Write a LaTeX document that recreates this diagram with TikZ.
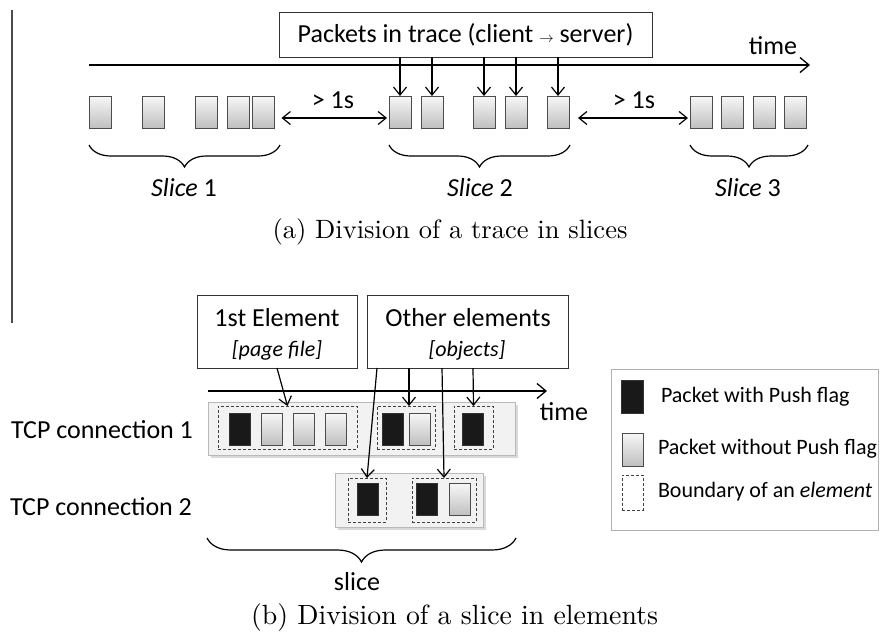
\documentclass[tikz,border=0pt]{standalone}
\usepackage{fontspec}
\newfontfamily\carl{Carlito}
\newfontfamily\lmten[Extension=.otf]{lmroman10-regular}
\usetikzlibrary{arrows.meta,decorations.pathreplacing,calc,shadows}
\begin{document}
\begin{tikzpicture}[x=1pt,y=-1pt,
  every node/.style={inner sep=0pt,outer sep=0pt},
  sf/.style={font=\carl\fontsize{26}{30}\selectfont},
  lg/.style={font=\carl\fontsize{22}{26}\selectfont},
  pkt/.style={draw=black!70,line width=0.8pt,minimum width=22pt,minimum height=32pt,top color=gray!6,bottom color=gray!50},
  spkt/.style={pkt,minimum width=21pt},
  bpkt/.style={draw=black!80,line width=0.8pt,fill=black!90,minimum width=21pt,minimum height=32pt},
  dsh/.style={draw=black!75,dashed,dash pattern=on 3pt off 2pt,line width=1pt},
  conn/.style={draw=gray!55,fill=gray!10,line width=0.8pt,drop shadow={shadow xshift=2.5pt,shadow yshift=-2.5pt,opacity=0.3}},
  lbox/.style={draw=black!80,line width=1pt},
  arr/.style={-{Straight Barb[length=8pt,width=13pt,line width=1.2pt]},line width=1.2pt},
  darr/.style={{Straight Barb[length=8pt,width=13pt,line width=1.2pt]}-{Straight Barb[length=8pt,width=13pt,line width=1.2pt]},line width=1.2pt},
  axis/.style={-{Straight Barb[length=9pt,width=15pt,line width=1.3pt]},line width=1.3pt},
  brc/.style={decorate,decoration={brace,mirror,amplitude=22pt},line width=1.2pt},
  captxt/.style={font=\lmten\fontsize{26.5}{30}\selectfont}
]
\useasboundingbox (0,0) rectangle (880,635);
\draw[line width=1.2pt,black!70] (12,10) -- (12,323);

% ---------- (a) ----------
\node[lbox,sf,minimum width=373pt,minimum height=45pt] (pbox) at (465.5,34.5)
  {Packets in trace (client {\fontsize{14}{14}\selectfont$\rightarrow$} server)};
\coordinate (ta) at (89,65);
\coordinate (tb) at (810,65);
\draw[axis] (ta) -- (tb);
\node[sf] (timea) at (773,46) {time};

\foreach \n/\x in {11/100,12/153,13/206,14/238,15/263.5,21/400,22/432,23/484,24/516,25/558,31/701,32/732,33/764,34/795}
  \node[pkt] (p\n) at (\x,112) {};

\foreach \n in {21,22,23,24,25}
  \draw[arr] (pbox.south -| p\n) -- (p\n.north);

\draw[darr] ($(p15.east)+(7,6)$) -- ($(p21.west)+(-2,6)$);
\node[sf] (g1) at (333,100) {> 1s};
\draw[darr] ($(p25.east)+(9,6)$) -- ($(p31.west)+(-2,6)$);
\node[sf] (g2) at (634,100) {> 1s};

\coordinate (b1a) at (89,145); \coordinate (b1b) at (280,145);
\coordinate (b2a) at (389,145); \coordinate (b2b) at (570,145);
\coordinate (b3a) at (690,145); \coordinate (b3b) at (808,145);
\draw[brc] (b1a) -- (b1b);
\draw[brc] (b2a) -- (b2b);
\draw[brc] (b3a) -- (b3b);
\node[sf] (s1) at (184,188) {\itshape Slice\upshape\ 1};
\node[sf] (s2) at (480,188) {\itshape Slice\upshape\ 2};
\node[sf] (s3) at (748,188) {\itshape Slice\upshape\ 3};

\node[captxt] (capa) at (450,232) {(a) Division of a trace in slices};

% ---------- (b) ----------
\node[lbox,minimum width=160pt,minimum height=73pt] (e1) at (277,331.5) {};
\node[sf] (e1t) at (277,318) {1st Element};
\node[lg] (e1s) at (277,350) {\itshape [page file]};
\node[lbox,minimum width=201pt,minimum height=73pt] (e2) at (467.5,331.5) {};
\node[sf] (e2t) at (468,318) {Other elements};
\node[lg] (e2s) at (467,350) {\itshape [objects]};

\coordinate (tc) at (208,391);
\coordinate (td) at (547,391);

\node[conn,minimum width=307pt,minimum height=53pt] (c1) at (361.5,428.5) {};
\node[conn,minimum width=148pt,minimum height=54pt] (c2) at (409,500) {};
\draw[axis] (tc) -- (td);
\node[sf] (timeb) at (564,412) {time};

\node[dsh,minimum width=139pt,minimum height=43pt] (d1) at (287.5,427.5) {};
\node[dsh,minimum width=58pt,minimum height=43pt] (d2) at (406,427.5) {};
\node[dsh,minimum width=39pt,minimum height=43pt] (d3) at (473.5,427.5) {};
\node[dsh,minimum width=38pt,minimum height=44pt] (d4) at (367,500) {};
\node[dsh,minimum width=64pt,minimum height=44pt] (d5) at (444,500) {};

\node[bpkt] (q1) at (239.5,429) {};
\node[spkt] (q2) at (271.5,429) {};
\node[spkt] (q3) at (303.5,429) {};
\node[spkt] (q4) at (335.5,429) {};
\node[bpkt] (q5) at (392.5,429) {};
\node[spkt] (q6) at (420,429) {};
\node[bpkt] (q7) at (473,429) {};
\node[bpkt] (r1) at (367.5,499.5) {};
\node[bpkt] (r2) at (427,499.5) {};
\node[spkt] (r3) at (459.5,499.5) {};

\coordinate (o1) at ($(e2.south west)+(10,0)$);
\coordinate (o2) at ($(e2.south west)+(42,0)$);
\coordinate (o3) at ($(e2.south west)+(75,0)$);
\coordinate (o4) at ($(e2.south west)+(106,0)$);
\draw[arr] (e1.south) -- (d1.north);
\draw[arr] (o1) -- (d4.north);
\draw[arr] (o2) -- (o2 |- d2.north);
\draw[arr] (o3) -- (d5.north);
\draw[arr] (o4) -- (d3.north);

\node[sf,anchor=west] (tcp1) at (11,430) {TCP connection 1};
\node[sf,anchor=west] (tcp2) at (10,507) {TCP connection 2};

\coordinate (bsa) at (207,538); \coordinate (bsb) at (516,538);
\draw[brc,decoration={amplitude=24pt}] (bsa) -- (bsb);
\node[sf] (sl) at (357,582) {slice};

\node[draw=gray!60,line width=0.8pt,minimum width=267pt,minimum height=161pt] (leg) at (744.5,449.5) {};
\node[bpkt,minimum width=22pt,minimum height=33pt] (l1) at (632,396.5) {};
\node[pkt,minimum width=21pt,minimum height=33pt] (l2) at (632.5,449.5) {};
\node[dsh,minimum width=21pt,minimum height=35pt] (l3) at (632.5,492.5) {};
\node[lg,anchor=west] (lt1) at (661,397) {Packet with Push flag};
\node[lg,anchor=west] (lt2) at (658,449) {Packet without Push flag};
\node[lg,anchor=west] (lt3) at (658,492) {Boundary of an \itshape element};

\node[captxt,font=\lmten\fontsize{27.8}{32}\selectfont] (capb) at (454.5,618) {(b) Division of a slice in elements};
\end{tikzpicture}
\end{document}
